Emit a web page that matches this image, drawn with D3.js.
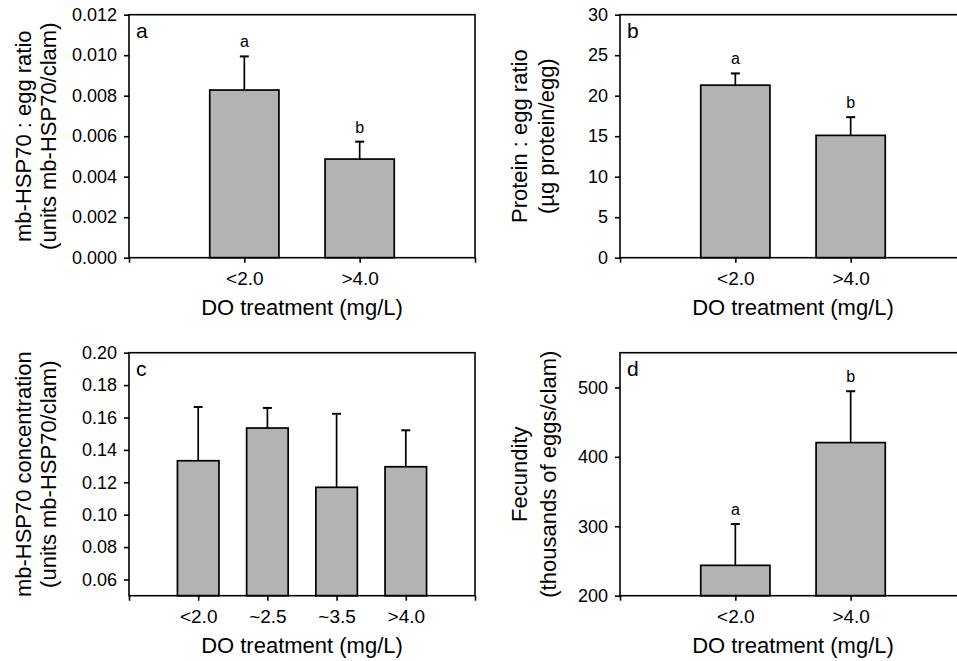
<!DOCTYPE html>
<html>
<head>
<script src="https://cdn.jsdelivr.net/npm/d3@7"></script>
<style>
  body { margin: 0; background: #fff; }
  text { font-family: "Liberation Sans", Arial, Helvetica, sans-serif; fill: #000; }
</style>
</head>
<body>
<div id="container"></div>
<script>
// categories
var catsTwo = ["<2.0", ">4.0"];
var catsFour = ["<2.0", "~2.5", "~3.5", ">4.0"];

// panel a: mb-HSP70 : egg ratio
var hspEgg = [0.00828, 0.00487];
var hspEggSE = [0.00166, 0.00086];
var hspEggSig = ["a", "b"];
var hspEggTicks = [0, 0.002, 0.004, 0.006, 0.008, 0.010, 0.012];

// panel b: protein : egg ratio
var protEgg = [21.3, 15.1];
var protEggSE = [1.45, 2.25];
var protEggSig = ["a", "b"];
var protEggTicks = [0, 5, 10, 15, 20, 25, 30];

// panel c: mb-HSP70 concentration
var hspConc = [0.1333, 0.1535, 0.1169, 0.1296];
var hspConcSE = [0.0332, 0.0124, 0.0454, 0.0225];
var hspConcTicks = [0.06, 0.08, 0.10, 0.12, 0.14, 0.16, 0.18, 0.20];

// panel d: fecundity
var fecund = [243.7, 420.5];
var fecundSE = [59.5, 74.0];
var fecundSig = ["a", "b"];
var fecundTicks = [200, 300, 400, 500];

var W = 957, H = 661;
var pw = 346, ph = 243;

var svg = d3.select("#container").append("svg")
    .attr("width", W).attr("height", H);
svg.append("rect").attr("width", W).attr("height", H).attr("fill", "#fff");

var panels = [
  { tag: "a", left: 129, top: 14.7, cats: catsTwo, vals: hspEgg, se: hspEggSE, sig: hspEggSig,
    domain: [0, 0.012], ticks: hspEggTicks, fmt: d3.format(".3f"),
    ylab: ["mb-HSP70 : egg ratio", "(units mb-HSP70/clam)"], lab1: -98, lab2: -73 },
  { tag: "b", left: 620, top: 14.7, cats: catsTwo, vals: protEgg, se: protEggSE, sig: protEggSig,
    domain: [0, 30], ticks: protEggTicks, fmt: d3.format("d"),
    ylab: ["Protein : egg ratio", "(\u00b5g protein/egg)"], lab1: -93, lab2: -66 },
  { tag: "c", left: 129, top: 352.7, cats: catsFour, vals: hspConc, se: hspConcSE, sig: null,
    domain: [0.05, 0.20], ticks: hspConcTicks, fmt: d3.format(".2f"),
    ylab: ["mb-HSP70 concentration", "(units mb-HSP70/clam)"], lab1: -98, lab2: -73 },
  { tag: "d", left: 620, top: 352.7, cats: catsTwo, vals: fecund, se: fecundSE, sig: fecundSig,
    domain: [200, 550], ticks: fecundTicks, fmt: d3.format("d"),
    ylab: ["Fecundity", "(thousands of eggs/clam)"], lab1: -93, lab2: -64 }
];

panels.forEach(function(p) {
  var g = svg.append("g").attr("transform", "translate(" + p.left + "," + p.top + ")");
  var n = p.cats.length;

  var x = d3.scaleLinear().domain([0, n + 1]).range([0, pw]);
  var y = d3.scaleLinear().domain(p.domain).range([ph, 0]);
  var bw = 0.6 * (x(1) - x(0));

  // bars
  g.selectAll("rect.bar")
    .data(p.vals)
    .enter().append("rect")
    .attr("class", "bar")
    .attr("x", function(d, i) { return x(i + 1) - bw / 2; })
    .attr("y", function(d) { return y(d); })
    .attr("width", bw)
    .attr("height", function(d) { return ph - y(d); })
    .attr("fill", "#b3b3b3")
    .attr("stroke", "#000")
    .attr("stroke-width", 1.7);

  // error bars (upper only)
  g.selectAll("line.err")
    .data(p.vals)
    .enter().append("line")
    .attr("x1", function(d, i) { return x(i + 1); })
    .attr("x2", function(d, i) { return x(i + 1); })
    .attr("y1", function(d) { return y(d); })
    .attr("y2", function(d, i) { return y(d + p.se[i]); })
    .attr("stroke", "#000").attr("stroke-width", 1.7);

  g.selectAll("line.cap")
    .data(p.vals)
    .enter().append("line")
    .attr("x1", function(d, i) { return x(i + 1) - 4.5; })
    .attr("x2", function(d, i) { return x(i + 1) + 4.5; })
    .attr("y1", function(d, i) { return y(d + p.se[i]); })
    .attr("y2", function(d, i) { return y(d + p.se[i]); })
    .attr("stroke", "#000").attr("stroke-width", 2);

  if (p.sig) {
    g.selectAll("text.sig")
      .data(p.sig)
      .enter().append("text")
      .attr("x", function(d, i) { return x(i + 1); })
      .attr("y", function(d, i) { return y(p.vals[i] + p.se[i]) - 9; })
      .attr("text-anchor", "middle")
      .style("font-size", "16px")
      .text(function(d) { return d; });
  }

  // frame
  g.append("rect")
    .attr("width", pw).attr("height", ph)
    .attr("fill", "none").attr("stroke", "#000").attr("stroke-width", 1.6);

  // y axis
  var ya = g.append("g")
    .call(d3.axisLeft(y).tickValues(p.ticks).tickFormat(p.fmt).tickSize(5).tickPadding(7));
  ya.select(".domain").remove();
  ya.selectAll(".tick line").attr("stroke-width", 1.6);
  ya.selectAll(".tick text").style("font-size", "18px").style("font-family", null);

  // x axis
  var xa = g.append("g")
    .attr("transform", "translate(0," + ph + ")")
    .call(d3.axisBottom(x).tickValues(d3.range(0, n + 2))
      .tickFormat(function(d) { return (d >= 1 && d <= n) ? p.cats[d - 1] : ""; })
      .tickSize(5).tickPadding(9));
  xa.select(".domain").remove();
  xa.selectAll(".tick line").attr("stroke-width", 1.6);
  xa.selectAll(".tick text").style("font-size", "19px").style("font-family", null);

  // panel tag
  g.append("text")
    .attr("x", 7).attr("y", 23)
    .style("font-size", "21px")
    .text(p.tag);

  // axis titles
  g.append("text")
    .attr("x", pw / 2).attr("y", ph + 57)
    .attr("text-anchor", "middle")
    .style("font-size", "22px")
    .text("DO treatment (mg/L)");

  g.append("text")
    .attr("transform", "translate(" + p.lab1 + "," + (ph / 2) + ") rotate(-90)")
    .attr("text-anchor", "middle")
    .style("font-size", "22px")
    .text(p.ylab[0]);
  g.append("text")
    .attr("transform", "translate(" + p.lab2 + "," + (ph / 2) + ") rotate(-90)")
    .attr("text-anchor", "middle")
    .style("font-size", "22px")
    .text(p.ylab[1]);
});
</script>
</body>
</html>
